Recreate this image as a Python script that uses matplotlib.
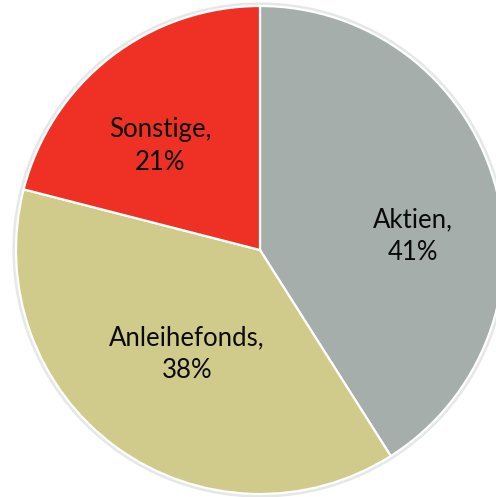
import numpy as np
import matplotlib
matplotlib.use("Agg")
import matplotlib.pyplot as plt

# Anteile in Prozent, Start oben, im Uhrzeigersinn
labels = ["Aktien", "Anleihefonds", "Sonstige"]
shares = [41, 38, 21]
colors = ["#A5AEAB", "#D0CB8A", "#EE3124"]

plt.rcParams['font.family'] = ['Lato', 'DejaVu Sans']

fig = plt.figure(figsize=(4.96, 4.97), dpi=100)
ax = fig.add_axes([0, 0, 1, 1])

# Kreismitte und Radius in Pixeln
cx, cy, r = 260, 250, 244

# Schatten-Rand
ax.add_patch(plt.Circle((0, 0), 1.012, color="#E6E8E8", zorder=0))

wedges, _ = ax.pie(shares, colors=colors, startangle=90, counterclock=False,
                   radius=1.0, wedgeprops=dict(edgecolor="white", linewidth=1.6))

# Beschriftung: Abstand vom Mittelpunkt und Winkelverschiebung je Segment
label_r = [0.63, 0.52, 0.59]
label_da = [-11, 1, 6]
for w, lab, val, lr, da in zip(wedges, labels, shares, label_r, label_da):
    ang = np.radians((w.theta1 + w.theta2) / 2 + da)
    ax.text(lr * np.cos(ang), lr * np.sin(ang), f"{lab},\n{val}%",
            ha="center", va="center", fontsize=18.5, linespacing=1.4,
            color="#0a0a0a")

ax.set_xlim(-cx / r, (496 - cx) / r)
ax.set_ylim(-(497 - cy) / r, cy / r)
ax.set_aspect("auto")
ax.axis("off")

fig.savefig("out.png", dpi=100)
